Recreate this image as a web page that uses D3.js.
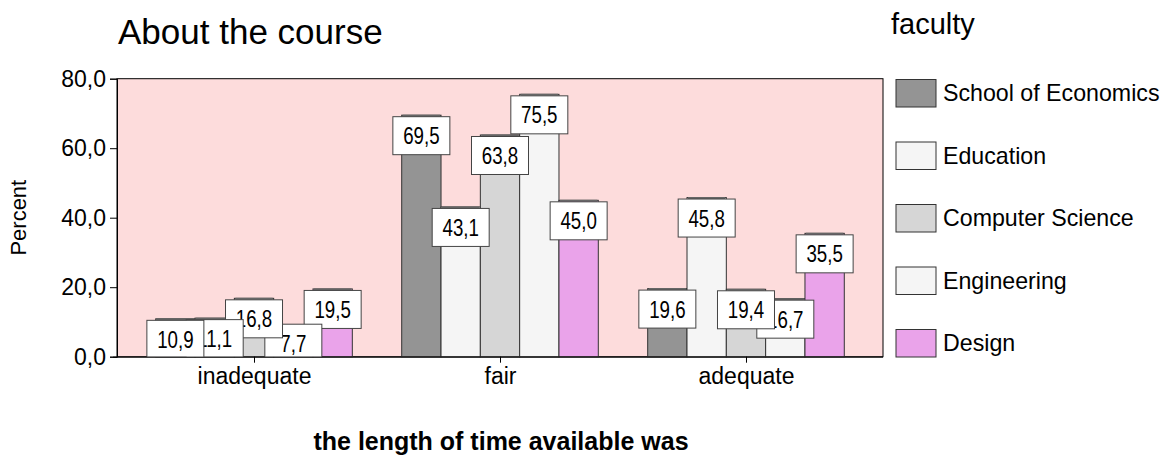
<!DOCTYPE html>
<html><head><meta charset="utf-8">
<script src="https://cdn.jsdelivr.net/npm/d3@7"></script>
<style>
body{margin:0;background:#fff;}
svg{display:block;font-family:"Liberation Sans",Arial,sans-serif;}
</style></head>
<body><svg id="c" width="1167" height="462"></svg>
<script>
const categories = ["inadequate", "fair", "adequate"];
const seriesNames = ["School of Economics", "Education", "Computer Science", "Engineering", "Design"];
const seriesColors = ["#949494", "#f5f5f5", "#d6d6d6", "#f5f5f5", "#eaa3ea"];
const valSchoolOfEconomics = [10.9, 69.5, 19.6];
const valEducation = [11.1, 43.1, 45.8];
const valComputerScience = [16.8, 63.8, 19.4];
const valEngineering = [7.7, 75.5, 16.7];
const valDesign = [19.5, 45.0, 35.5];
const yTicks = [0, 20, 40, 60, 80];
const seriesValues = [valSchoolOfEconomics, valEducation, valComputerScience, valEngineering, valDesign];

const svg = d3.select("#c");
const L = 117, R = 883, T = 78.7, B = 356.7;
const fmt = d3.formatLocale({decimal: ",", thousands: ".", grouping: [3], currency: ["", ""]}).format(".1f");

const x = d3.scalePoint().domain(categories).range([L, R]).padding(0.557);
const xs = d3.scaleBand().domain(seriesNames).range([-98.3, 98.3]).padding(0);
const y = d3.scaleLinear().domain([0, 80]).range([B, T]);

svg.append("rect").attr("x", L).attr("y", T).attr("width", R - L).attr("height", B - T)
  .attr("fill", "#fddcdc").attr("stroke", "#000").attr("stroke-width", 1);

svg.append("defs").append("clipPath").attr("id", "pc").append("rect")
  .attr("x", L).attr("y", T).attr("width", R - L).attr("height", B - T);

const data = [];
categories.forEach((c, ci) => seriesNames.forEach((s, si) => data.push({c, s, si, v: seriesValues[si][ci]})));

const gBars = svg.append("g");
gBars.selectAll("rect.bar").data(data).join("rect").attr("class", "bar")
  .attr("x", d => x(d.c) + xs(d.s)).attr("width", xs.bandwidth())
  .attr("y", d => y(d.v)).attr("height", d => y(0) - y(d.v))
  .attr("fill", d => seriesColors[d.si]).attr("stroke", "#333").attr("stroke-width", 1);
gBars.selectAll("line.cap").data(data).join("line").attr("class", "cap")
  .attr("x1", d => x(d.c) + xs(d.s) + 1).attr("x2", d => x(d.c) + xs(d.s) + xs.bandwidth() - 1)
  .attr("y1", d => y(d.v) + 0.5).attr("y2", d => y(d.v) + 0.5)
  .attr("stroke", "#666").attr("stroke-width", 2);

// labels (earlier series drawn on top)
const bw = 57, bh = 38;
const gLab = svg.append("g").attr("clip-path", "url(#pc)");
const labData = data.slice().sort((a, b) => b.si - a.si);
const lab = gLab.selectAll("g").data(labData).join("g")
  .attr("transform", d => {
    const cx = x(d.c) + xs(d.s) + xs.bandwidth() / 2;
    const top = Math.min(y(d.v) + 1.5, B - 32.5);
    return `translate(${cx},${top})`;
  });
lab.append("rect").attr("x", -bw / 2).attr("y", 0).attr("width", bw).attr("height", bh)
  .attr("fill", "#fff").attr("stroke", "#444").attr("stroke-width", 1);
lab.append("text").attr("transform", `translate(0,${bh / 2}) scale(0.78,1)`).attr("dy", "0.36em")
  .attr("text-anchor", "middle")
  .style("font-family", '"Liberation Sans",Arial,sans-serif')
  .style("font-size", "24px").attr("fill", "#000")
  .text(d => fmt(d.v));

// axes
const ya = svg.append("g").attr("transform", `translate(${L},0)`)
  .call(d3.axisLeft(y).tickValues(yTicks).tickFormat(fmt).tickSize(7).tickPadding(4));
ya.select(".domain").attr("stroke", "#000");
ya.selectAll("text").style("font-size", "23px").style("font-family", '"Liberation Sans",Arial,sans-serif').attr("fill", "#000");

const xa = svg.append("g").attr("transform", `translate(0,${B})`)
  .call(d3.axisBottom(x).tickSize(6).tickPadding(5).tickSizeOuter(0));
xa.select(".domain").attr("d", `M${L - 4},0.5H${R}`).attr("stroke", "#000");
xa.selectAll("text").style("font-size", "23px").style("font-family", '"Liberation Sans",Arial,sans-serif').attr("fill", "#000");

// titles
svg.append("text").attr("x", 118).attr("y", 43.5).style("font-size", "35px").text("About the course");
svg.append("text").attr("x", 891).attr("y", 33.5).style("font-size", "29px").text("faculty");
svg.append("text").attr("transform", `translate(26,${(T + B) / 2}) rotate(-90)`).attr("text-anchor", "middle")
  .style("font-size", "22px").text("Percent");
svg.append("text").attr("x", (L + R) / 2 + 1).attr("y", 450).attr("text-anchor", "middle")
  .style("font-size", "25px").style("font-weight", "bold").text("the length of time available was");

// legend
const lg = svg.append("g").selectAll("g").data(seriesNames).join("g")
  .attr("transform", (d, i) => `translate(896,${93 + i * 62.5})`);
lg.append("rect").attr("x", 0).attr("y", -13.5).attr("width", 40).attr("height", 27.5)
  .attr("fill", (d, i) => seriesColors[i]).attr("stroke", "#333").attr("stroke-width", 1);
lg.append("text").attr("x", 47).attr("y", 0).attr("dy", "0.36em").style("font-size", "23.2px").text(d => d);
</script></body></html>
